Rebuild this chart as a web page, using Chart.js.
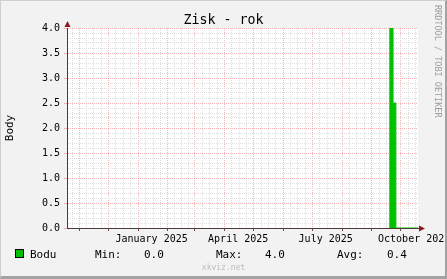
<!DOCTYPE html>
<html>
<head>
<meta charset="utf-8">
<script src="https://cdn.jsdelivr.net/npm/chart.js@4/dist/chart.umd.min.js"></script>
<style>
  html, body { margin: 0; padding: 0; }
  body { width: 447px; height: 279px; background: #f2f2f2; position: relative; overflow: hidden;
         font-family: 'DejaVu Sans Mono', monospace; color: #000; }
  #chart { position: absolute; left: 0; top: 0; }
  .frame { position: absolute; left: 0; top: 0; width: 447px; height: 279px; box-sizing: border-box;
           border-top: 1px solid #cfcfcf; border-left: 1px solid #cfcfcf;
           border-right: 2px solid #a3a3a3; border-bottom: 3px solid #a3a3a3; pointer-events: none; }
  .text { position: absolute; white-space: pre; }
  #title { left: 0; width: 447px; top: 12.5px; text-align: center; font-size: 13.3px; line-height: 13.3px; }
  #credit { left: 434px; top: 5px; writing-mode: vertical-rl; font-size: 8.5px; line-height: 8px; color: #9c9c9c; }
  #footer { left: 0; width: 447px; top: 264px; text-align: center; font-size: 8px; line-height: 8px; color: #bcbcbc; }
  .legend { top: 249px; font-size: 11px; line-height: 11px; }
  .swatch { position: absolute; left: 15px; top: 249px; width: 9px; height: 9px; box-sizing: border-box;
            border: 1px solid #000; background: #00c000; }
</style>
</head>
<body>
<canvas id="chart" width="447" height="279"></canvas>
<div class="text" id="title">Zisk - rok</div>
<div class="text" id="credit">RRDTOOL / TOBI OETIKER</div>
<div class="text" id="footer">xkviz.net</div>
<div class="swatch"></div>
<div id="legend"></div>
<div class="frame"></div>
<script>
const rangeStart = '2024-10-19';
const rangeEnd = '2025-10-19';

// Body series, each value holds until the next sample
const sampleDates = ['2025-09-19', '2025-09-23', '2025-09-26', '2025-10-19'];
const bodyValues = [4.0, 2.5, 0.0, 0.0];

const gridMonths = ['2024-10', '2024-11', '2024-12', '2025-01', '2025-02', '2025-03', '2025-04',
  '2025-05', '2025-06', '2025-07', '2025-08', '2025-09', '2025-10'];
const labelMonths = ['2025-01', '2025-04', '2025-07', '2025-10'];
const monthLabels = ['January 2025', 'April 2025', 'July 2025', 'October 2025'];
const labelOffsetDays = 14;

const yMin = 0;
const yMax = 4;
const yTickCount = 41;

const seriesName = 'Bodu';
const legendStats = [['Min:', '0.0'], ['Max:', '4.0'], ['Avg:', '0.4']];

const mono = 'DejaVu Sans Mono';
const green = '#00c000';
const majorGrid = 'rgba(240, 130, 130, 0.6)';
const minorGrid = '#dedede';

const DAY = 86400000;
const [startY, startM, startD] = rangeStart.split('-').map(Number);
const origin = Date.UTC(startY, startM - 1, startD);

function dayOf(year, monthIndex, day) {
  return (Date.UTC(year, monthIndex, day) - origin) / DAY;
}

function dayFromText(text) {
  const [y, m, d] = text.split('-').map(Number);
  return dayOf(y, m - 1, d);
}

const xMax = dayFromText(rangeEnd);

// quarter-month grid lines, month starts are the red ones
const xTicks = [];
gridMonths.forEach(month => {
  const [y, m] = month.split('-').map(Number);
  const start = dayOf(y, m - 1, 1);
  const length = dayOf(y, m, 1) - start;

  for (let q = 0; q < 4; q++) {
    const value = start + q * length / 4;
    if (value < 0 || value > xMax) continue;
    xTicks.push({value, monthStart: q === 0, label: ''});
  }

  // labels sit mid month, without a grid line of their own
  const labelIndex = labelMonths.indexOf(month);
  if (labelIndex >= 0) {
    xTicks.push({value: start + labelOffsetDays, label: monthLabels[labelIndex], labelOnly: true});
  }
});
xTicks.sort((a, b) => a.value - b.value);

const yTicks = Array.from({length: yTickCount}, (_, i) => yMin + i * (yMax - yMin) / (yTickCount - 1));
const isHalf = value => Math.abs(value * 2 - Math.round(value * 2)) < 1e-6;

const legend = document.getElementById('legend');
const legendItems = [[seriesName, 30]];
const legendX = [[95, 144], [216, 265], [337, 387]];
legendStats.forEach(([name, value], i) => {
  legendItems.push([name, legendX[i][0]], [value, legendX[i][1]]);
});
legendItems.forEach(([text, x]) => {
  const span = document.createElement('div');
  span.className = 'text legend';
  span.style.left = `${x}px`;
  span.textContent = text;
  legend.appendChild(span);
});

const xGridColor = index => {
  const tick = xTicks[index];
  if (!tick || tick.labelOnly) return 'rgba(0,0,0,0)';
  return tick.monthStart ? majorGrid : minorGrid;
};

const plotFrame = {
  id: 'plotFrame',
  beforeDraw(chart) {
    const {ctx, chartArea: area} = chart;
    ctx.save();
    ctx.fillStyle = '#fff';
    ctx.fillRect(area.left, area.top, area.right - area.left, area.bottom - area.top);
    ctx.restore();
  },
  afterDraw(chart) {
    const {ctx, chartArea: area} = chart;
    ctx.save();
    ctx.fillStyle = '#8b1c1c';

    ctx.beginPath();
    ctx.moveTo(area.left + 0.5, area.top - 7);
    ctx.lineTo(area.left - 2.5, area.top - 1);
    ctx.lineTo(area.left + 3.5, area.top - 1);
    ctx.closePath();
    ctx.fill();

    ctx.beginPath();
    ctx.moveTo(area.right + 7, area.bottom + 0.5);
    ctx.lineTo(area.right + 1, area.bottom - 2.5);
    ctx.lineTo(area.right + 1, area.bottom + 3.5);
    ctx.closePath();
    ctx.fill();
    ctx.restore();
  },
};

const context = document.getElementById('chart').getContext('2d');
new Chart(context, {
  type: 'line',
  data: {
    datasets: [{
      label: seriesName,
      data: sampleDates.map((date, i) => ({x: dayFromText(date), y: bodyValues[i]})),
      stepped: 'before',
      fill: 'origin',
      borderColor: green,
      backgroundColor: green,
      borderWidth: 1,
      pointRadius: 0,
    }],
  },
  options: {
    responsive: false,
    animation: false,
    devicePixelRatio: 1,
    layout: {padding: {top: 28, right: 29, bottom: 0, left: 0}},
    plugins: {
      legend: {display: false},
      title: {display: false},
      tooltip: {enabled: false},
    },
    scales: {
      x: {
        type: 'linear',
        min: 0,
        max: xMax,
        afterBuildTicks: scale => {
          scale.ticks = xTicks.map(tick => ({value: tick.value}));
        },
        afterFit: scale => {
          scale.height = 51;
          scale.paddingLeft = 0;
          scale.paddingRight = 0;
        },
        grid: {
          color: ctx => xGridColor(ctx.index),
          tickColor: ctx => (xTicks[ctx.index] && xTicks[ctx.index].monthStart ? '#6b4a4a' : 'rgba(0,0,0,0)'),
          tickLength: 3,
          lineWidth: 1,
        },
        border: {color: '#4a3a3a', dash: [1, 1]},
        ticks: {
          autoSkip: false,
          maxRotation: 0,
          minRotation: 0,
          padding: 2,
          color: '#000',
          font: {family: mono, size: 10},
          callback: (value, index) => xTicks[index].label,
        },
      },
      y: {
        min: yMin,
        max: yMax,
        afterBuildTicks: scale => {
          scale.ticks = yTicks.map(value => ({value}));
        },
        afterFit: scale => {
          scale.width = 67;
          scale.paddingTop = 0;
          scale.paddingBottom = 0;
        },
        grid: {
          color: ctx => (isHalf(yTicks[ctx.index]) ? majorGrid : minorGrid),
          tickColor: ctx => (isHalf(yTicks[ctx.index]) ? majorGrid : 'rgba(0,0,0,0)'),
          tickLength: 3,
          lineWidth: 1,
        },
        border: {color: '#4a3a3a', dash: [1, 1]},
        ticks: {
          autoSkip: false,
          padding: 4,
          color: '#000',
          font: {family: mono, size: 10},
          callback: value => (isHalf(value) ? value.toFixed(1) : ''),
        },
        title: {
          display: true,
          text: 'Body',
          color: '#000',
          font: {family: mono, size: 11},
        },
      },
    },
  },
  plugins: [plotFrame],
});
</script>
</body>
</html>
